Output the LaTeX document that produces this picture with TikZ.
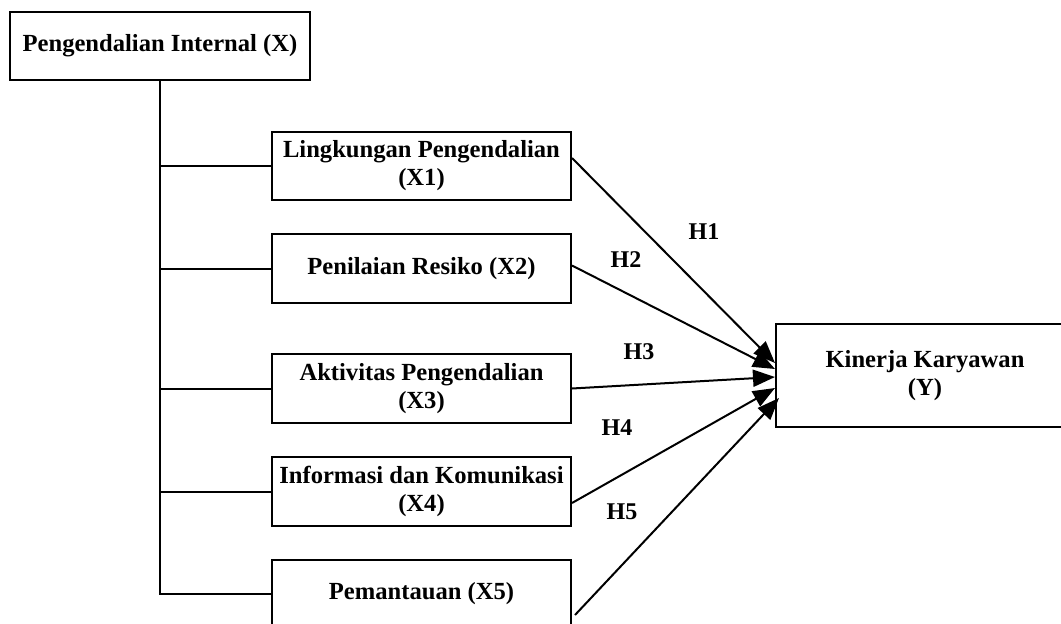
\documentclass[tikz,border=0pt]{standalone}
\usepackage{fontspec}
\setmainfont{Liberation Serif}
\usetikzlibrary{arrows.meta}
\begin{document}
\begin{tikzpicture}[x=1pt,y=-1pt,
  box/.style={draw, line width=2pt, align=center, inner sep=0pt,
    font=\bfseries\fontsize{24.6}{28}\selectfont},
  link/.style={line width=2pt},
  hyp/.style={line width=2pt, -{Triangle[length=22pt,width=17pt]}},
  lab/.style={font=\bfseries\fontsize{24}{28}\selectfont, inner sep=0pt}]
\useasboundingbox (0,0) rectangle (1061,624);
\clip (0,0) rectangle (1061,624);
\fill[white] (0,0) rectangle (1061,624);
\node[box, minimum width=300pt, minimum height=68pt] (top) at (160,46) {Pengendalian Internal (X)};
\node[box, minimum width=299pt, minimum height=68pt] (x1) at (421.5,166) {Lingkungan Pengendalian\\(X1)};
\node[box, minimum width=299pt, minimum height=69pt] (x2) at (421.5,268.5) {Penilaian Resiko (X2)};
\node[box, minimum width=299pt, minimum height=69pt] (x3) at (421.5,388.5) {Aktivitas Pengendalian\\(X3)};
\node[box, minimum width=299pt, minimum height=69pt] (x4) at (421.5,491.5) {Informasi dan Komunikasi\\(X4)};
\node[box, minimum width=299pt, minimum height=68pt] (x5) at (421.5,594) {Pemantauan (X5)};
\node[box, minimum width=298pt, minimum height=103pt] (y) at (925,375.5) {Kinerja Karyawan\\(Y)};
% tree
\draw[link] (top.south) -- (top.south |- x5.west) -- (x5.west);
\foreach \b in {x1,x2,x3,x4}{\draw[link] (top.south |- \b.west) -- (\b.west);}
% hypotheses
\draw[hyp] ([yshift=8pt]x1.east) -- ([yshift=12.5pt]y.west);
\draw[hyp] ([yshift=3pt]x2.east) -- ([yshift=6.5pt]y.west);
\draw[hyp] (x3.east) -- ([yshift=-1.5pt]y.west);
\draw[hyp] ([yshift=-11.5pt]x4.east) -- ([yshift=-12.5pt]y.west);
\draw[hyp] ([xshift=3pt,yshift=-21pt]x5.east) -- ([xshift=4pt,yshift=-22.5pt]y.west);
\node[lab] (h1) at (704,232) {H1};
\node[lab] (h2) at (626,260) {H2};
\node[lab] (h3) at (639,352) {H3};
\node[lab] (h4) at (617,428) {H4};
\node[lab] (h5) at (622,512) {H5};
\end{tikzpicture}
\end{document}
